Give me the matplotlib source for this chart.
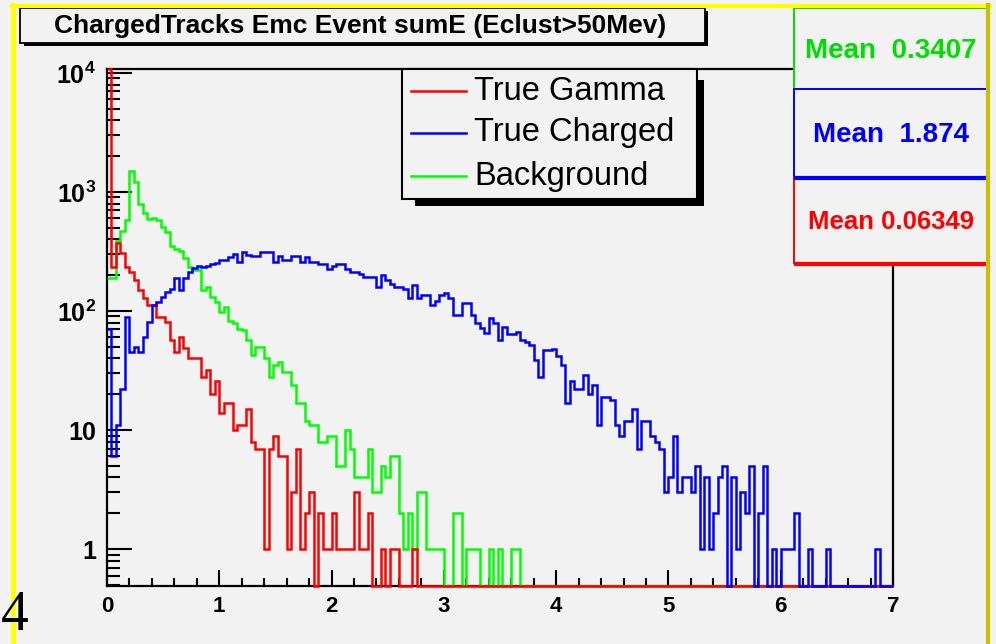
import numpy as np
import matplotlib
matplotlib.use('Agg')
import matplotlib.pyplot as plt
from matplotlib.lines import Line2D
from matplotlib.patches import Rectangle
from matplotlib.ticker import FixedLocator, MultipleLocator, LogLocator, FuncFormatter, NullFormatter

plt.rcParams['font.family'] = ['Liberation Sans', 'DejaVu Sans']
plt.rcParams['mathtext.fontset'] = 'custom'
plt.rcParams['mathtext.rm'] = 'Liberation Sans:bold'
plt.rcParams['mathtext.it'] = 'Liberation Sans:bold'
plt.rcParams['mathtext.bf'] = 'Liberation Sans:bold'

# histogram: 175 bins of 0.04 GeV in [0, 7]
nbins = 175
x_lo, x_hi = 0.0, 7.0

true_gamma = [20000, 236, 375, 305, 236, 214, 182, 150, 128, 112,
              112, 89, 89, 81, 57, 45, 60, 49, 40, 40,
              40, 28, 32, 20, 26, 14, 17, 17, 10, 11,
              11, 15, 8, 7, 7, 1, 7, 9, 6, 6,
              1, 3, 7, 1, 2, 3, 0, 2, 1, 1,
              2, 1, 1, 1, 1, 3, 1, 1, 2, 0,
              0, 1, 0, 1, 1, 0, 0, 0, 1, 0]

true_charged = [70, 6, 11, 22, 89, 45, 50, 45, 61, 81,
                112, 120, 131, 145, 154, 188, 150, 190, 214, 230,
                240, 235, 240, 250, 255, 270, 267, 285, 300, 260,
                315, 295, 290, 290, 315, 315, 315, 259, 290, 270,
                270, 290, 290, 259, 285, 259, 259, 250, 250, 225,
                240, 250, 250, 225, 214, 214, 205, 194, 194, 194,
                160, 200, 181, 168, 160, 160, 152, 128, 165, 128,
                136, 136, 112, 122, 136, 142, 128, 92, 92, 116,
                116, 92, 79, 72, 65, 87, 79, 57, 73, 64,
                64, 67, 57, 55, 52, 39, 28, 47, 47, 48,
                42, 35, 17, 26, 22, 22, 29, 20, 24, 11,
                19, 19, 18, 11, 9, 12, 12, 15, 7, 12,
                12, 9, 8, 7, 3, 4, 9, 3, 4, 4,
                3, 5, 1, 4, 1, 2, 4, 5, 0, 4,
                1, 3, 2, 5, 0, 2, 5, 0, 1, 0,
                1, 1, 1, 2, 0, 0, 1, 0, 0, 0,
                1, 0, 0, 0, 0, 0, 0, 0, 0, 0,
                0, 1, 0, 0, 0]

background = [190, 190, 390, 470, 580, 1490, 1210, 800, 670, 590,
              610, 580, 510, 465, 350, 330, 320, 280, 236, 222,
              220, 150, 160, 130, 120, 98, 108, 82, 79, 70,
              69, 57, 43, 50, 50, 40, 28, 35, 37, 31,
              31, 24, 17, 17, 12, 11, 11, 8, 8, 9,
              9, 5, 5, 10, 7, 4, 4, 4, 7, 3,
              3, 5, 4, 6, 6, 2, 1, 2, 1, 3,
              3, 1, 1, 1, 1, 0, 0, 2, 2, 0,
              1, 1, 1, 0, 0, 1, 0, 1, 0, 0,
              1, 1]

means = {'Background': '0.3407', 'True Charged': '1.874', 'True Gamma': '0.06349'}

def padded(v):
    return np.array(list(v) + [0] * (nbins - len(v)), dtype=float)

edges = np.linspace(x_lo, x_hi, nbins + 1)

W, H = 996, 644
BG = '#f2f2f2'

def fx(x):
    return x / W

def fy(y):
    return 1 - y / H

fig = plt.figure(figsize=(W / 100, H / 100), dpi=100, facecolor=BG)
ax = fig.add_axes([fx(107), fy(586), 786 / W, 517 / H])
ax.set_facecolor(BG)

ymin, ymax = 0.49, 1.08e4
ax.set_yscale('log')
ax.set_xlim(x_lo, x_hi)
ax.set_ylim(ymin, ymax)

series = [(background, '#00ff00', 3), (true_gamma, '#ff0000', 4), (true_charged, '#0000ff', 5)]
for vals, col, z in series:
    v = np.clip(padded(vals), ymin, ymax)
    ax.stairs(v, edges, color=col, lw=1.8, zorder=z, clip_on=False, baseline=None)

for s in ax.spines.values():
    s.set_linewidth(1.6)
    s.set_color('black')

ax.xaxis.set_major_locator(MultipleLocator(1))
ax.xaxis.set_minor_locator(MultipleLocator(0.2))
ax.yaxis.set_major_locator(FixedLocator([1, 10, 100, 1e3, 1e4]))
ax.yaxis.set_minor_locator(LogLocator(base=10, subs=np.arange(2, 10), numticks=30))
ax.yaxis.set_minor_formatter(NullFormatter())

def ylab(v, pos):
    if v < 5:
        return '1'
    if v < 50:
        return '10'
    return r'$10^{%d}$' % round(np.log10(v))

ax.yaxis.set_major_formatter(FuncFormatter(ylab))
ax.tick_params(which='both', direction='in', top=False, right=False, width=1.5, color='black')
ax.tick_params(axis='y', which='major', length=18, pad=8, labelsize=18)
ax.tick_params(axis='y', which='minor', length=9.5)
ax.tick_params(axis='x', which='major', length=11.5, pad=7, labelsize=16)
ax.tick_params(axis='x', which='minor', length=6)
for lab in ax.get_xticklabels() + ax.get_yticklabels():
    lab.set_fontweight('bold')

# title box with shadow
fig.add_artist(Rectangle((fx(24), fy(46)), (708 - 24) / W, (46 - 11) / H,
                         transform=fig.transFigure, facecolor='black', edgecolor='none', zorder=10))
fig.add_artist(Rectangle((fx(20), fy(43)), (705 - 20) / W, (43 - 8) / H,
                         transform=fig.transFigure, facecolor=BG, edgecolor='black', lw=1.3, zorder=11))
fig.text(fx(360), fy(26), 'ChargedTracks Emc Event sumE (Eclust>50Mev)', ha='center', va='center',
         fontsize=19, fontweight='bold', zorder=12)

# legend box with shadow
fig.add_artist(Rectangle((fx(415), fy(206)), (704 - 415) / W, (206 - 80) / H,
                         transform=fig.transFigure, facecolor='black', edgecolor='none', zorder=10))
fig.add_artist(Rectangle((fx(402), fy(199)), (697 - 402) / W, (199 - 69) / H,
                         transform=fig.transFigure, facecolor=BG, edgecolor='black', lw=1.5, zorder=11))
legend_rows = [('True Gamma', '#ff0000', 91), ('True Charged', '#0000ff', 133), ('Background', '#00ff00', 176)]
for name, col, yy in legend_rows:
    fig.add_artist(Line2D([fx(411), fx(466)], [fy(yy), fy(yy)], color=col, lw=1.8,
                          transform=fig.transFigure, zorder=12))
    fig.text(fx(474), fy(yy), name, ha='left', va='center', fontsize=23.5, zorder=12)

# stats boxes
stats = [('Background', '#00dd00', 8, 89, 20), ('True Charged', '#0000ff', 89, 177, 20),
         ('True Gamma', '#ff0000', 177, 263, 18.5)]
for name, col, y0, y1, fs in stats:
    fig.add_artist(Rectangle((fx(794), fy(y1)), (987 - 794) / W, (y1 - y0) / H,
                             transform=fig.transFigure, facecolor=BG, edgecolor=col, lw=1.4, zorder=13))
    if name != 'Background':
        fig.add_artist(Line2D([fx(796), fx(987)], [fy(y1 + 1), fy(y1 + 1)], color=col, lw=3,
                              transform=fig.transFigure, zorder=14))
    sep = '  ' if name != 'True Gamma' else ' '
    fig.text(fx(891), fy((y0 + y1) / 2 + 2), 'Mean' + sep + means[name], ha='center', va='center',
             color=col, fontsize=fs, fontweight='bold', zorder=15)

# slide frame
fig.add_artist(Line2D([fx(13), fx(13)], [fy(5), 0], color='#ffff00', lw=3.5, transform=fig.transFigure, zorder=20))
fig.add_artist(Line2D([fx(12), fx(990)], [fy(6), fy(6)], color='#ffff00', lw=3, transform=fig.transFigure, zorder=20))
fig.add_artist(Line2D([fx(988), fx(988)], [fy(5), 0], color='#c8c000', lw=3, transform=fig.transFigure, zorder=20))

fig.text(fx(1), fy(642), '4', family=['Liberation Serif', 'DejaVu Serif'], fontsize=40,
         ha='left', va='bottom', zorder=21)

fig.savefig('out.png', dpi=100, facecolor=BG)
